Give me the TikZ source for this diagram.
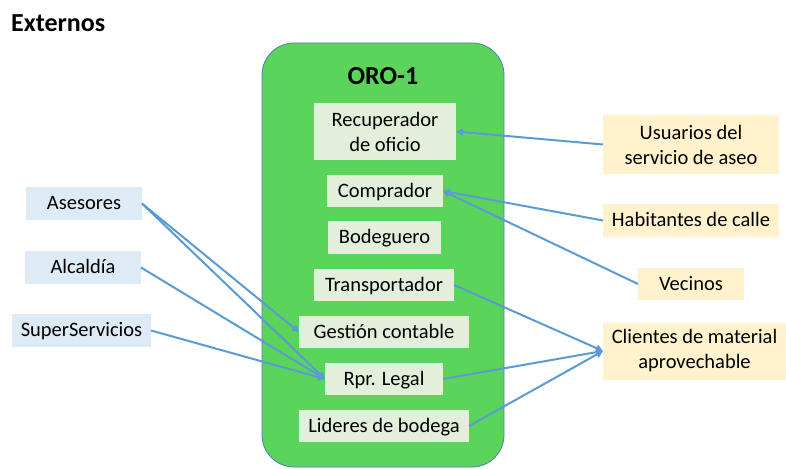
\documentclass[tikz,border=0pt]{standalone}
\usepackage{fontspec}
\setmainfont{Carlito}
\usetikzlibrary{arrows.meta}
\definecolor{orogreen}{HTML}{5AD55A}
\definecolor{oroedge}{HTML}{4A7EBB}
\definecolor{rolefill}{HTML}{E2EFDA}
\definecolor{extfill}{HTML}{DEEBF7}
\definecolor{clientfill}{HTML}{FFF2CC}
\definecolor{linkblue}{HTML}{5B9BD5}
\tikzset{
  boxbase/.style={inner sep=0pt, outer sep=0pt, text=black,
    font=\fontsize{20.5}{25}\selectfont, align=center},
  onel/.style={text height=15pt, text depth=3pt},
  role/.style={boxbase, fill=rolefill},
  ext/.style={boxbase, fill=extfill},
  client/.style={boxbase, fill=clientfill},
  link/.style={draw=linkblue, line width=2pt,
    -{Triangle[length=7pt,width=7pt]}}
}
\begin{document}
\begin{tikzpicture}[x=1pt,y=-1pt]
\useasboundingbox (0,0) rectangle (786,468);

% section heading
\node[anchor=base west, inner sep=0pt, font=\fontsize{26}{30}\selectfont\bfseries]
  (title) at (11,32) {Externos};

% organisation container
\draw[fill=orogreen, draw=oroedge, line width=0.8pt, rounded corners=32pt]
  (262,43) rectangle (504,467);
\node[anchor=base, inner sep=0pt, font=\fontsize{26}{30}\selectfont\bfseries]
  (oro) at (383,85) {ORO-1};

% internal roles
\node[role, minimum width=142pt, minimum height=56pt] (rec) at (385,131.5) {Recuperador\\de oficio};
\node[role, onel, minimum width=116pt, minimum height=32pt] (comp) at (385,191) {Comprador};
\node[role, onel, minimum width=113pt, minimum height=33pt] (bod) at (384.5,237.5) {Bodeguero};
\node[role, onel, minimum width=140pt, minimum height=32pt] (trans) at (384,285) {Transportador};
\node[role, onel, minimum width=170pt, minimum height=32pt] (gest) at (384,332) {Gestión contable};
\node[role, onel, minimum width=118pt, minimum height=32pt] (rpr) at (384,379) {Rpr. Legal};
\node[role, onel, minimum width=170pt, minimum height=32pt] (lid) at (384,426) {Lideres de bodega};

% external bodies (left)
\node[ext, onel, minimum width=116pt, minimum height=33pt] (ases) at (84,203.5) {Asesores};
\node[ext, onel, minimum width=116pt, minimum height=33pt] (alc) at (83,267.5) {Alcaldía};
\node[ext, onel, minimum width=139pt, minimum height=33pt] (sup) at (81.5,330.5) {SuperServicios};

% external parties (right)
\node[client, minimum width=176pt, minimum height=58pt] (usu) at (691,144.5) {Usuarios del\\servicio de aseo};
\node[client, onel, minimum width=176pt, minimum height=33pt] (hab) at (691,220.5) {Habitantes de calle};
\node[client, onel, minimum width=106pt, minimum height=32pt] (vec) at (691,284) {Vecinos};
\node[client, minimum width=183pt, minimum height=57pt] (cli) at (694.5,351) {Clientes de material\\aprovechable};

% relations
\draw[link] (usu.west) -- (rec.east);
\draw[link] (hab.west) -- (comp.east);
\draw[link] (vec.west) -- (comp.east);
\draw[link] (ases.east) -- (gest.west);
\draw[link] (ases.east) -- (rpr.west);
\draw[link] (alc.east) -- (rpr.west);
\draw[link] (sup.east) -- (rpr.west);
\draw[link] (trans.east) -- (cli.west);
\draw[link] (rpr.east) -- (cli.west);
\draw[link] (lid.east) -- (cli.west);
\end{tikzpicture}
\end{document}
